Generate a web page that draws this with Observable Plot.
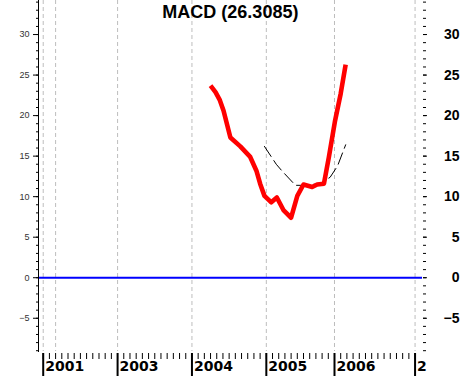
<!DOCTYPE html>
<html>
<head>
<meta charset="utf-8">
<script src="https://cdn.jsdelivr.net/npm/d3@7"></script>
<script src="https://cdn.jsdelivr.net/npm/@observablehq/plot@0.6"></script>
<style>
  html, body { margin: 0; padding: 0; background: #fff; }
  #chart svg { display: block; }
</style>
</head>
<body>
<div id="chart"></div>
<script>
// Time axis in periods (one minor tick per period)
const yearLabels = ["2001", "2003", "2004", "2005", "2006", "2"];
const yearPeriods = [0, 12, 24, 36, 47, 60];
const gridPeriods = [0, 2, 12, 24, 36, 47, 60];

// MACD line
const macdPeriod = [27.0, 27.8, 28.5, 29.1, 30.2, 31.8, 33.4, 34.4, 35.0, 35.7, 36.8, 37.7, 38.8, 40.0, 41.0, 42.0, 43.4, 44.2, 45.3, 46.1, 47.1, 48.0, 48.8];
const macdValue  = [23.7, 22.9, 21.9, 20.6, 17.3, 16.2, 14.9, 13.2, 11.6, 10.1, 9.3, 9.9, 8.3, 7.4, 10.1, 11.5, 11.2, 11.5, 11.6, 14.9, 19.4, 22.7, 26.3];

// Signal line
const signalPeriod = [35.7, 37.6, 38.5, 40.7, 42.0, 44.7, 46.3, 47.5, 48.8];
const signalValue  = [16.2, 14.0, 13.2, 11.4, 11.4, 11.6, 12.4, 13.8, 16.4];

const yMajor = [-5, 0, 5, 10, 15, 20, 25, 30];
const yMinor = d3.range(-9, 35, 1);
const xMinor = d3.range(0, 61, 1);
const title = "MACD (26.3085)";

const macd = macdPeriod.map((p, i) => ({p, v: macdValue[i]}));
const signal = signalPeriod.map((p, i) => ({p, v: signalValue[i]}));
const years = yearPeriods.map((p, i) => ({p, label: yearLabels[i]}));

const chart = Plot.plot({
  width: 461,
  height: 377,
  marginLeft: 38,
  marginRight: 39,
  marginTop: 0,
  marginBottom: 26,
  style: {fontFamily: "'Liberation Sans', Arial, sans-serif", background: "#fff", overflow: "visible"},
  x: {domain: [-0.76, 61.2], axis: null},
  y: {domain: [-9.1, 34.2], axis: null},
  marks: [
    Plot.ruleX(gridPeriods, {stroke: "#bdbdbd", strokeDasharray: "4,3", strokeWidth: 1}),
    Plot.ruleY([0], {stroke: "#0000ff", strokeWidth: 2}),
    Plot.frame({anchor: "left", stroke: "#000"}),
    // left axis
    Plot.axisY({anchor: "left", ticks: yMinor, tickSize: 2, text: null, label: null, stroke: "#000"}),
    Plot.axisY({anchor: "left", ticks: yMajor, tickSize: 5, tickPadding: 4, label: null, fontSize: 9, fill: "#333", stroke: "#000"}),
    // right axis
    Plot.axisY({anchor: "right", ticks: yMinor, tickSize: 3, text: null, label: null, stroke: "#000"}),
    Plot.axisY({anchor: "right", ticks: yMajor, tickSize: 4, tickPadding: 33, label: null, textAnchor: "end", fontSize: 14, fontWeight: "bold", fill: "#000", stroke: "#000"}),
    // bottom axis
    Plot.axisX({anchor: "bottom", ticks: xMinor, tickSize: 6, text: null, label: null, stroke: "#000", dy: 2}),
    Plot.axisX({anchor: "bottom", ticks: yearPeriods, tickSize: 23, text: null, label: null, stroke: "#000", strokeWidth: 2, dy: 2}),
    Plot.text(years, {x: "p", frameAnchor: "bottom", text: "label", textAnchor: "start", lineAnchor: "top", dx: 2, dy: 10, fontSize: 14, fontWeight: "bold", fontFamily: "'DejaVu Sans', sans-serif", fill: "#000"}),
    // series
    Plot.line(signal, {x: "p", y: "v", stroke: "#000", strokeWidth: 1, strokeDasharray: "12,5"}),
    Plot.line(macd, {x: "p", y: "v", stroke: "#ff0000", strokeWidth: 4.6, strokeLinejoin: "round", strokeLinecap: "butt"}),
    // title
    Plot.text([title], {frameAnchor: "top", x: () => 30.2, text: d => d, lineAnchor: "top", dy: 5, fontSize: 18, fontWeight: "bold", fill: "#000"})
  ]
});
document.getElementById("chart").appendChild(chart);
</script>
</body>
</html>
